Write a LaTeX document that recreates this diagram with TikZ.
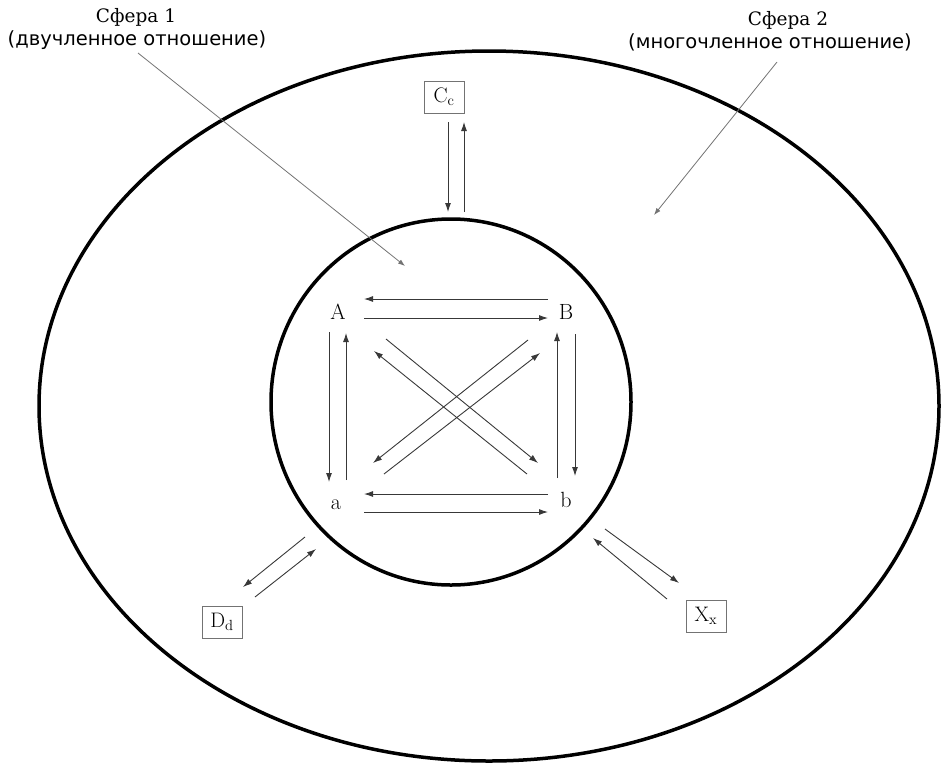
\documentclass[tikz,border=0pt]{standalone}
\usepackage{fontspec}
\newfontfamily\serifcyr{DejaVu Serif}
\newfontfamily\sanscyr{DejaVu Sans}
\usetikzlibrary{arrows.meta}
\begin{document}
\begin{tikzpicture}[x=1pt,y=-1pt,
  arr/.style={draw=black!78, line width=0.9pt, -{Latex[length=9pt,width=6pt]}},
  thin arr/.style={draw=black!55, line width=0.8pt, -{Latex[length=7pt,width=5pt]}},
  lbl/.style={font=\fontsize{22}{26}\selectfont, inner sep=0pt},
  boxnode/.style={draw=black!55, line width=0.8pt, inner sep=3pt, minimum width=40pt, minimum height=32pt, font=\fontsize{21}{24}\selectfont},
  ring/.style={line width=3.5pt}]
\useasboundingbox (0,0) rectangle (944,764);
% spheres
\draw[ring] (489,406) ellipse [x radius=450, y radius=355];
\draw[ring] (451,402) ellipse [x radius=180, y radius=183];
% titles
\node[lbl, font=\serifcyr\fontsize{18.5}{22}\selectfont] (t1) at (136,17) {Сфера 1};
\node[lbl, font=\sanscyr\fontsize{19.5}{22}\selectfont] (s1) at (137,40) {(двучленное отношение)};
\node[lbl, font=\serifcyr\fontsize{18.5}{22}\selectfont] (t2) at (788,20) {Сфера 2};
\node[lbl, font=\sanscyr\fontsize{19.5}{22}\selectfont] (s2) at (770,42) {(многочленное отношение)};
\coordinate (p1a) at (138,53); \coordinate (p1b) at (405,266);
\coordinate (p2a) at (777,62); \coordinate (p2b) at (654,215);
\draw[thin arr] (p1a) -- (p1b);
\draw[thin arr] (p2a) -- (p2b);
% letters
\node[lbl] (A) at (338,312) {A};
\node[lbl] (B) at (566,312) {B};
\node[lbl] (a) at (336,505) {a};
\node[lbl] (b) at (566,500) {b};
% top horizontal
\draw[arr] (548,299) -- (364,299);
\draw[arr] (364,318) -- (548,318);
% bottom horizontal
\draw[arr] (548,494) -- (364,494);
\draw[arr] (364,512) -- (548,512);
% left vertical
\draw[arr] (329,332) -- (329,482);
\draw[arr] (346,480) -- (346,333);
% right vertical
\draw[arr] (557,478) -- (557,332);
\draw[arr] (575,334) -- (575,476);
% diagonals
\draw[arr] (386,339) -- (538,463);
\draw[arr] (527,474) -- (374,351);
\draw[arr] (528,340) -- (373,463);
\draw[arr] (384,474) -- (540,353);
% outer boxes
\node[boxnode] (C) at (444,97) {C$_{\mathrm{c}}$};
\node[boxnode] (D) at (222,622) {D$_{\mathrm{d}}$};
\node[boxnode] (X) at (706,616) {X$_{\mathrm{x}}$};
\draw[arr] (448,122) -- (448,212);
\draw[arr] (464,212) -- (464,122);
\draw[arr] (305,537) -- (243,587);
\draw[arr] (255,597) -- (316,549);
\draw[arr] (605,529) -- (679,583);
\draw[arr] (667,599) -- (593,538);
\end{tikzpicture}
\end{document}
